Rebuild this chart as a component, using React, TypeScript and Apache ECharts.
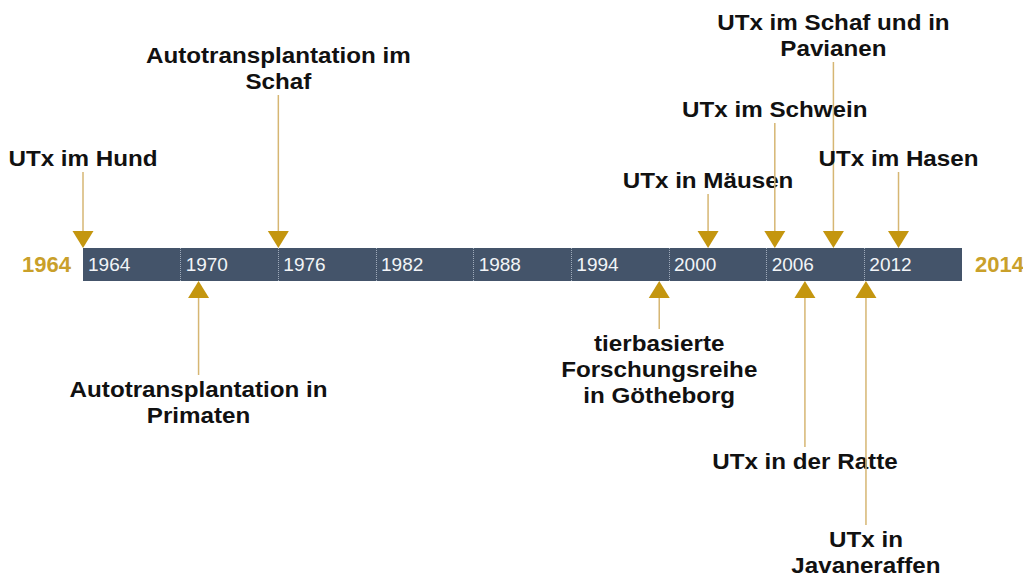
import React, { useEffect, useRef } from "react";
import * as echarts from "echarts";

// ---- data ----
const axisMin = 1964;
const axisMax = 2018;
const tickInterval = 6;
const rangeLabels = ["1964", "2014"];

const eventYears = [1964, 1971.1, 1976, 1999.4, 2002.4, 2006.5, 2008.35, 2010.1, 2012.1, 2014.1];
const eventLabels = [
  "UTx im Hund",
  "Autotransplantation in\nPrimaten",
  "Autotransplantation im\nSchaf",
  "tierbasierte\nForschungsreihe\nin Götheborg",
  "UTx in Mäusen",
  "UTx im Schwein",
  "UTx in der Ratte",
  "UTx im Schaf und in\nPavianen",
  "UTx in\nJavaneraffen",
  "UTx im Hasen",
];
const eventSides = ["above", "below", "above", "below", "above", "above", "below", "above", "below", "above"];

// ---- layout (px distance between bar edge and the label end of each connector line) ----
const connectorLengths = [76, 94, 153, 48, 54, 125, 166, 186, 244, 76];

const BAR = "#44546A";
const GOLD = "#C4960F";
const LINE_GOLD = "#D6B673";
const FONT = "'Liberation Sans', Arial, sans-serif";

export default function App() {
  const ref = useRef<HTMLDivElement>(null);

  useEffect(() => {
    document.body.style.margin = "0";
    if (!ref.current) return;
    const chart = echarts.init(ref.current, undefined, { renderer: "svg" });

    const triW = 21;
    const triH = 17;
    const textStyle = (text: string, va: string) => ({
      text,
      fill: "#111111",
      fontSize: 22,
      fontWeight: "bold",
      fontFamily: FONT,
      lineHeight: 26,
      align: "center",
      verticalAlign: va,
    });

    const option: any = {
      animation: false,
      backgroundColor: "#ffffff",
      grid: {
        left: 83,
        right: 61,
        top: 248,
        height: 33,
        show: true,
        backgroundColor: BAR,
        borderWidth: 0,
      },
      xAxis: {
        type: "value",
        min: axisMin,
        max: axisMax,
        interval: tickInterval,
        axisLine: { show: false },
        axisTick: { show: false },
        splitLine: {
          show: true,
          showMinLine: false,
          showMaxLine: false,
          lineStyle: { color: "rgba(190,200,215,0.75)", type: "dotted", width: 1 },
        },
        axisLabel: {
          inside: true,
          margin: 17,
          verticalAlign: "middle",
          align: "left",
          padding: [0, 0, 0, 5],
          color: "#F2F4F7",
          fontSize: 19,
          fontFamily: FONT,
          showMaxLabel: false,
          formatter: (v: number) => (v >= axisMax ? "" : String(v)),
        },
      },
      yAxis: { type: "value", min: 0, max: 1, show: false },
      series: [
        {
          type: "custom",
          clip: false,
          silent: true,
          data: eventYears.map((y, i) => [y, i]),
          renderItem: (params: any, api: any) => {
            const i = api.value(1);
            const x = api.coord([api.value(0), 0])[0];
            const cs = params.coordSys;
            const top = cs.y;
            const bottom = cs.y + cs.height;
            const above = eventSides[i] === "above";
            const len = connectorLengths[i];
            const children: any[] = [];
            if (above) {
              const lineStart = top - len;
              children.push({
                type: "line",
                shape: { x1: x, y1: lineStart, x2: x, y2: top - triH + 1 },
                style: { stroke: LINE_GOLD, lineWidth: 1.5 },
              });
              children.push({
                type: "polygon",
                shape: { points: [[x - triW / 2, top - triH], [x + triW / 2, top - triH], [x, top]] },
                style: { fill: GOLD },
              });
              children.push({
                type: "text",
                x: x,
                y: lineStart - 1,
                scaleX: 1.1,
                style: textStyle(eventLabels[i], "bottom"),
              });
            } else {
              const lineEnd = bottom + len;
              children.push({
                type: "line",
                shape: { x1: x, y1: bottom + triH - 1, x2: x, y2: lineEnd },
                style: { stroke: LINE_GOLD, lineWidth: 1.5 },
              });
              children.push({
                type: "polygon",
                shape: { points: [[x - triW / 2, bottom + triH], [x + triW / 2, bottom + triH], [x, bottom]] },
                style: { fill: GOLD },
              });
              children.push({
                type: "text",
                x: x,
                y: lineEnd + 1,
                scaleX: 1.1,
                style: textStyle(eventLabels[i], "top"),
              });
            }
            return { type: "group", children };
          },
        },
        {
          type: "custom",
          clip: false,
          silent: true,
          data: [[axisMin, 0], [axisMax, 1]],
          renderItem: (params: any, api: any) => {
            const i = api.value(1);
            const x = api.coord([api.value(0), 0])[0];
            const cs = params.coordSys;
            const cy = cs.y + cs.height / 2;
            return {
              type: "text",
              x: i === 0 ? x - 12 : x + 13,
              y: cy,
              style: {
                text: rangeLabels[i],
                fill: "#C9A02A",
                fontSize: 22,
                fontWeight: "bold",
                fontFamily: FONT,
                align: i === 0 ? "right" : "left",
                verticalAlign: "middle",
              },
            };
          },
        },
      ],
    };

    chart.setOption(option);
    return () => chart.dispose();
  }, []);

  return <div ref={ref} style={{ width: 1023, height: 576 }} />;
}
